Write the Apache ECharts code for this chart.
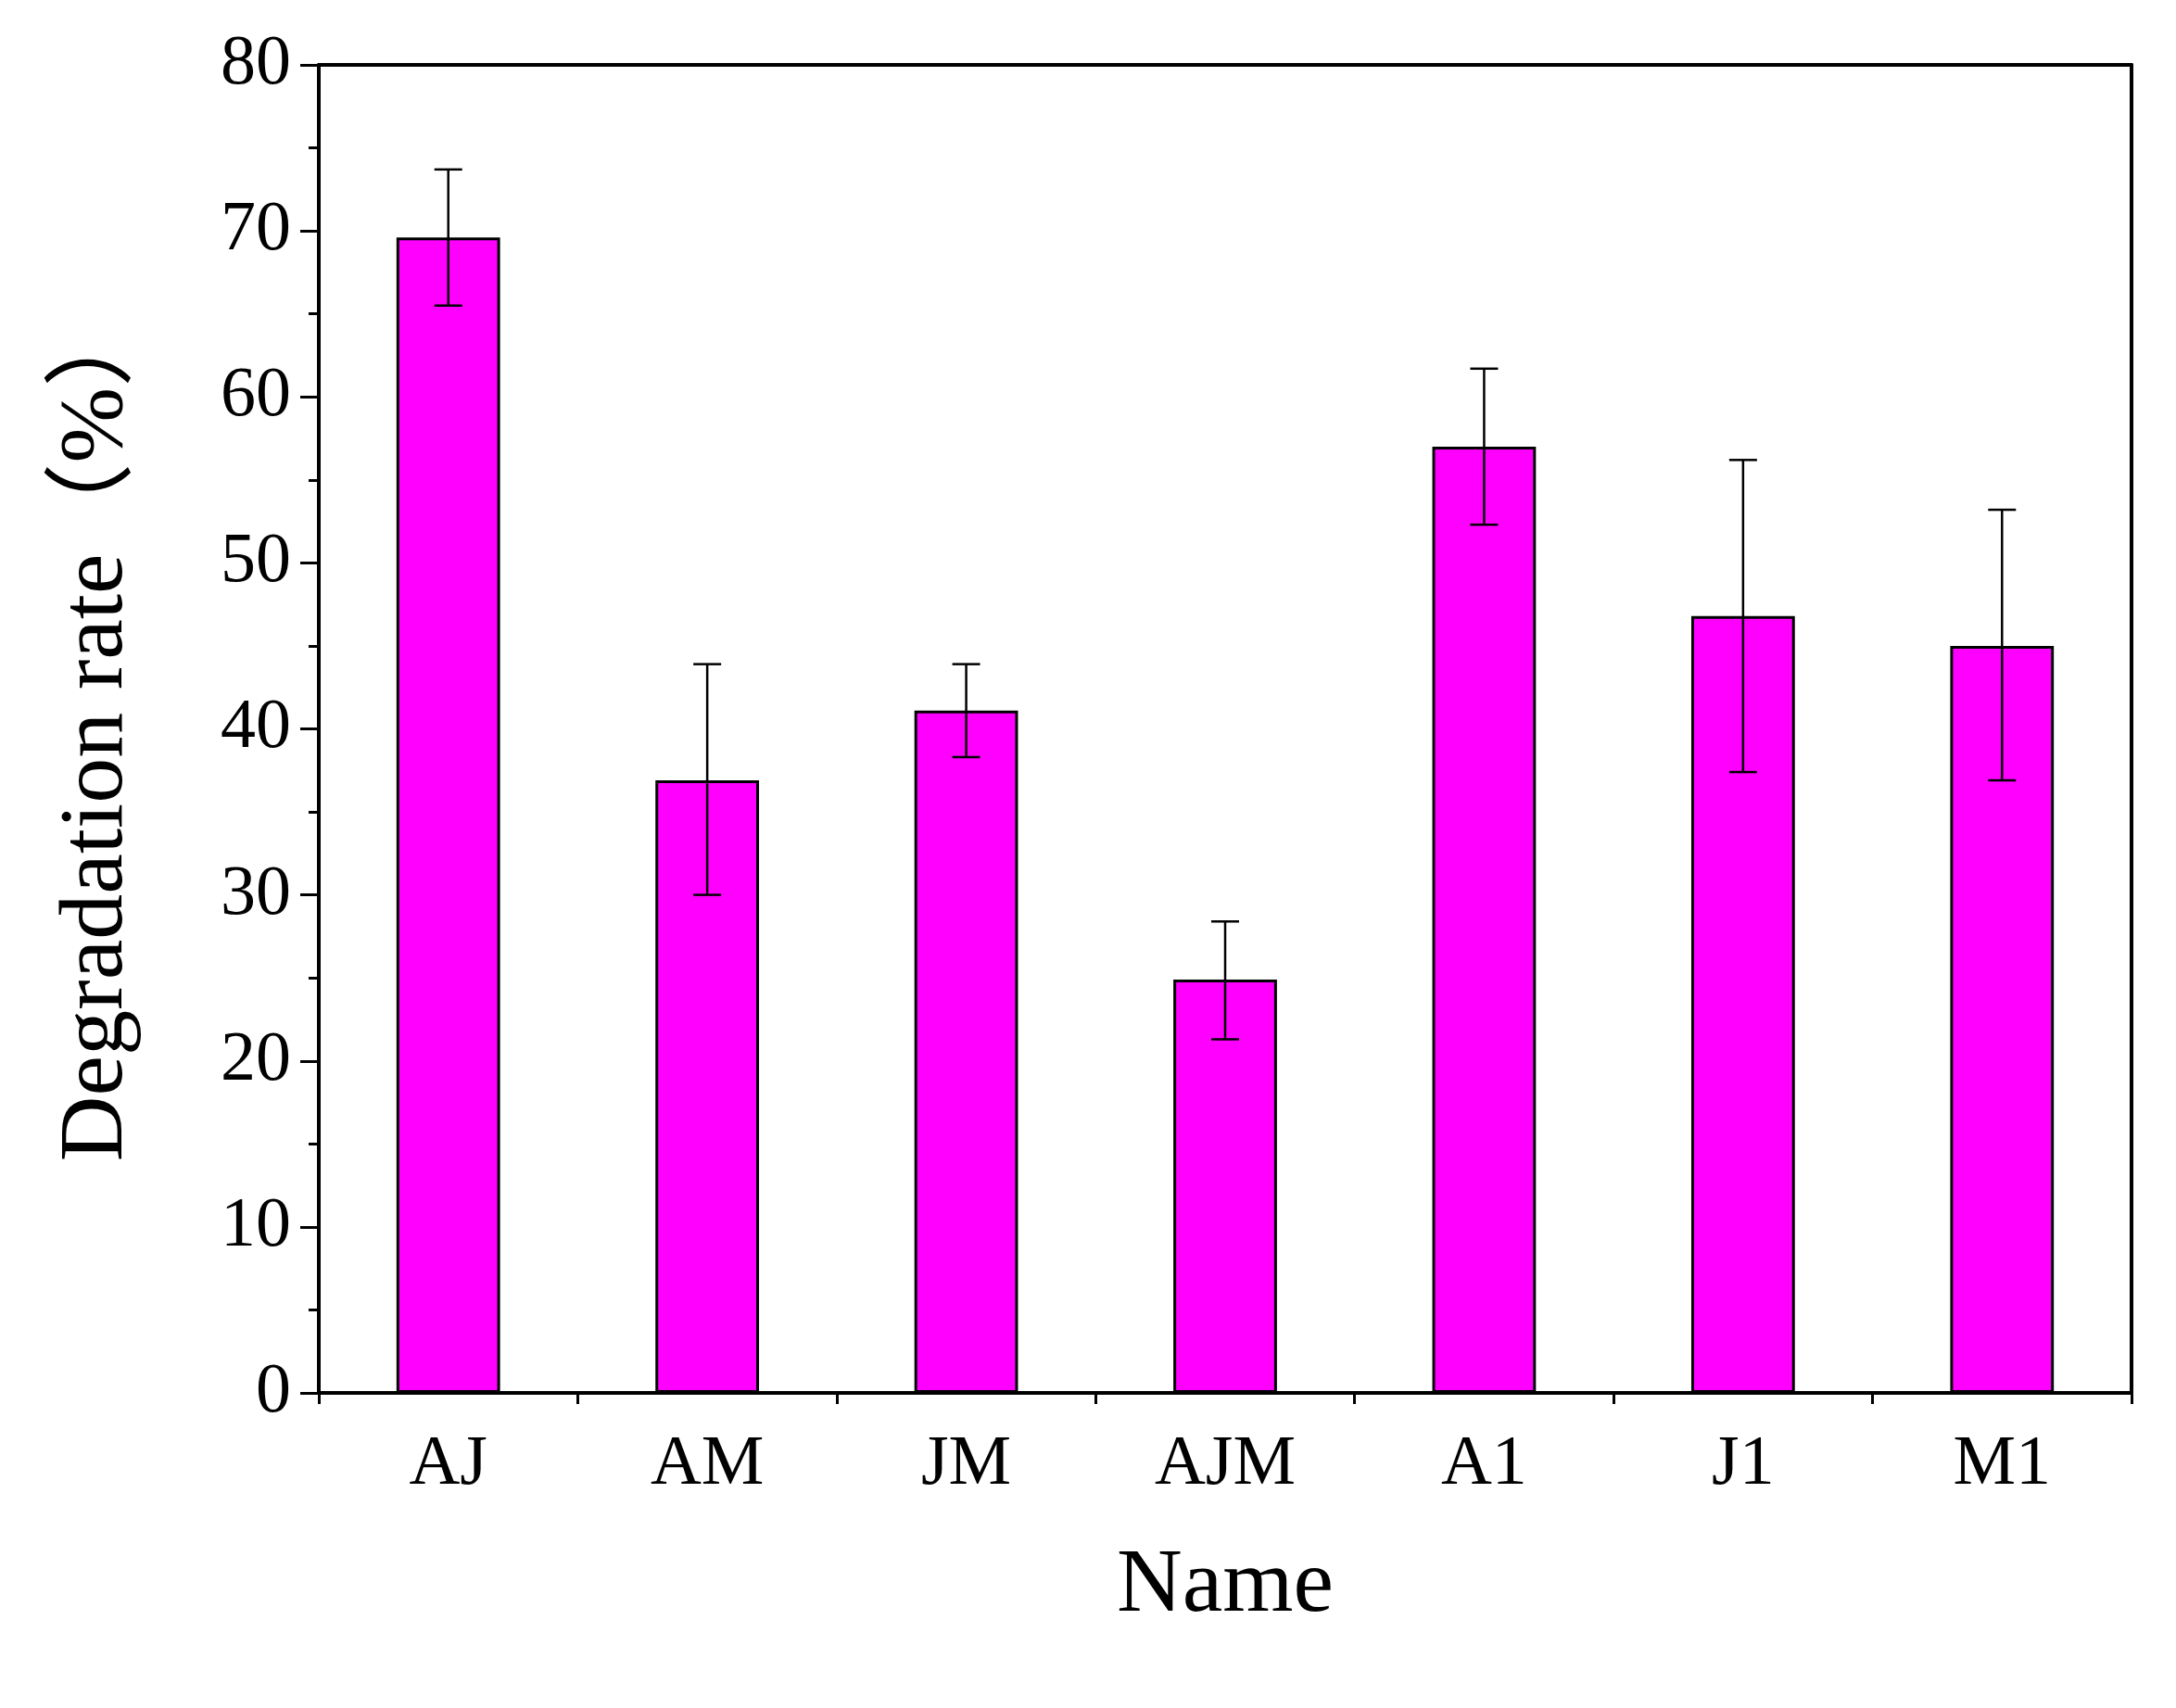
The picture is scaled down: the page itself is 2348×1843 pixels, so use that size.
<!DOCTYPE html>
<html>
<head>
<meta charset="utf-8">
<script src="https://cdn.jsdelivr.net/npm/echarts@6/dist/echarts.min.js"></script>
<style>html,body{margin:0;padding:0;background:#fff}#main{width:2348px;height:1843px}</style>
</head>
<body>
<div id="main"></div>
<script>
var names = ['AJ','AM','JM','AJM','A1','J1','M1'];
var rates = [69.6, 36.9, 41.1, 24.9, 57.0, 46.8, 45.0];
var errLow = [65.5, 30.0, 38.3, 21.3, 52.3, 37.4, 36.9];
var errHigh = [73.7, 43.9, 43.9, 28.4, 61.7, 56.2, 53.2];

var font = '"Liberation Serif","Times New Roman","Noto Sans CJK SC",serif';
var chart = echarts.init(document.getElementById('main'));

var errData = [];
for (var i = 0; i < names.length; i++) errData.push([i, errLow[i], errHigh[i]]);

var option = {
    backgroundColor: '#ffffff',
    animation: false,
    grid: { left: 344, right: 48, top: 70, bottom: 340 },
    xAxis: [{
        type: 'category',
        data: names,
        axisLine: { lineStyle: { color: '#000', width: 4 } },
        axisTick: { alignWithLabel: true, inside: false, length: 20, lineStyle: { color: '#000', width: 3 } },
        axisLabel: { color: '#000', fontFamily: font, fontSize: 76, margin: 40 },
        name: 'Name', nameLocation: 'middle', nameGap: 160,
        nameTextStyle: { color: '#000', fontFamily: font, fontSize: 98 }
    }, {
        type: 'value', min: 0, max: 7, interval: 1,
        position: 'bottom',
        axisLine: { show: false },
        axisTick: { length: 12, lineStyle: { color: '#000', width: 3 } },
        axisLabel: { show: false },
        splitLine: { show: false }
    }, {
        type: 'category', data: names, position: 'top',
        axisLine: { show: true, lineStyle: { color: '#000', width: 4 } },
        axisTick: { show: false }, axisLabel: { show: false }
    }],
    yAxis: [{
        type: 'value', min: 0, max: 80, interval: 10,
        axisLine: { show: true, lineStyle: { color: '#000', width: 4 } },
        axisTick: { show: true, length: 20, lineStyle: { color: '#000', width: 3 } },
        minorTick: { show: true, splitNumber: 2, length: 11, lineStyle: { color: '#000', width: 3 } },
        splitLine: { show: false },
        axisLabel: { color: '#000', fontFamily: font, fontSize: 76, margin: 30 },
        name: 'Degradation rate（%）', nameLocation: 'middle', nameGap: 190,
        nameTextStyle: { color: '#000', fontFamily: font, fontSize: 98 }
    }, {
        type: 'value', min: 0, max: 80, position: 'right',
        axisLine: { show: true, lineStyle: { color: '#000', width: 4 } },
        axisTick: { show: false }, axisLabel: { show: false }, splitLine: { show: false }
    }],
    series: [{
        type: 'bar',
        data: rates,
        barWidth: '40%',
        itemStyle: { color: '#ff00ff', borderColor: '#000', borderWidth: 3 }
    }, {
        type: 'custom',
        data: errData,
        z: 10,
        renderItem: function (params, api) {
            var x = api.value(0);
            var lo = api.coord([x, api.value(1)]);
            var hi = api.coord([x, api.value(2)]);
            var half = 15;
            var st = { stroke: '#000', lineWidth: 2.5 };
            return { type: 'group', children: [
                { type: 'line', shape: { x1: lo[0], y1: lo[1], x2: hi[0], y2: hi[1] }, style: st },
                { type: 'line', shape: { x1: lo[0] - half, y1: lo[1], x2: lo[0] + half, y2: lo[1] }, style: st },
                { type: 'line', shape: { x1: hi[0] - half, y1: hi[1], x2: hi[0] + half, y2: hi[1] }, style: st }
            ]};
        }
    }]
};
chart.setOption(option);
</script>
</body>
</html>
